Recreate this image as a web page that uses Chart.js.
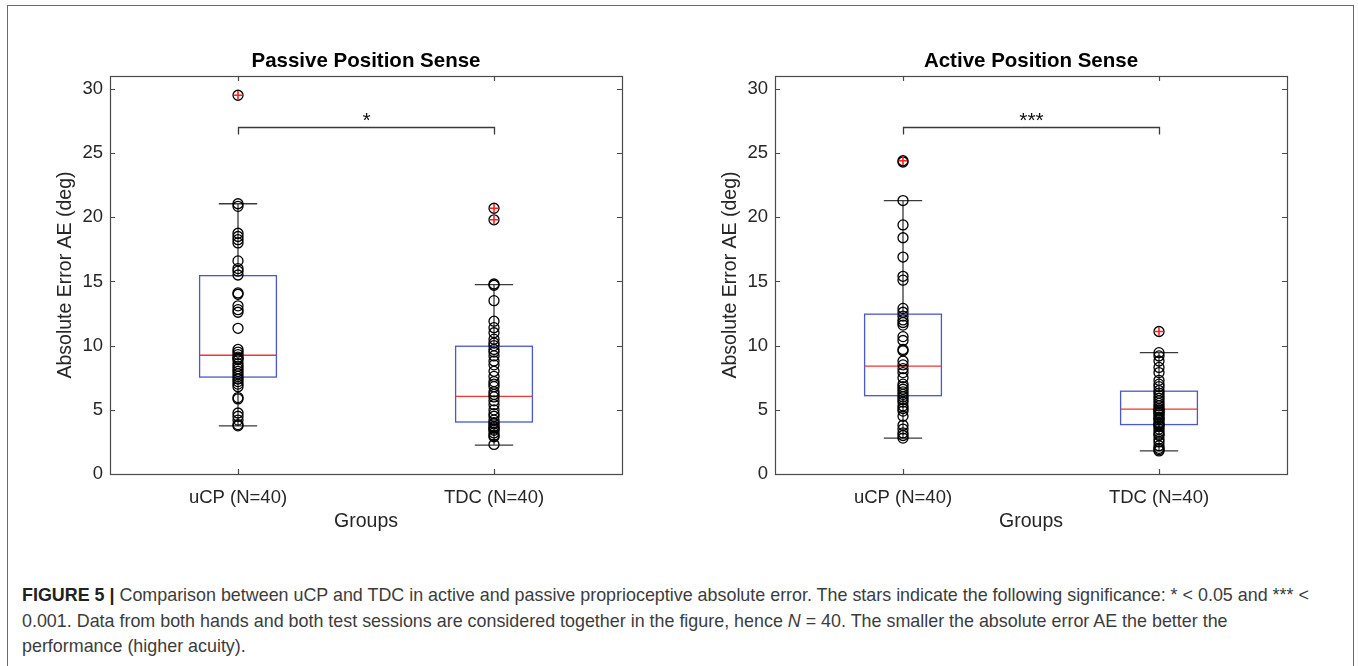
<!DOCTYPE html>
<html><head><meta charset="utf-8">
<script src="https://cdn.jsdelivr.net/npm/chart.js@4.4.0/dist/chart.umd.min.js"></script>
<style>
html,body{margin:0;padding:0;background:#fff;width:1358px;height:666px;overflow:hidden;font-family:"Liberation Sans",Arial,sans-serif;}
#frame{position:absolute;left:7px;top:5px;width:1347px;height:720px;border:1.5px solid #6a6a6a;box-sizing:border-box;}
.cw{position:absolute;top:0;width:679px;height:545px;}
#c1wrap{left:0;}
#c2wrap{left:665px;}
#caption{position:absolute;left:22px;top:583px;font-size:17.9px;line-height:25.5px;color:#3c3c3c;white-space:nowrap;}
#caption b{color:#222;}
</style>
</head>
<body>
<div id="frame"></div>
<div class="cw" id="c1wrap"><canvas id="c1"></canvas></div>
<div class="cw" id="c2wrap"><canvas id="c2"></canvas></div>
<div id="caption"><b>FIGURE 5 |</b> Comparison between uCP and TDC in active and passive proprioceptive absolute error. The stars indicate the following significance: * &lt; 0.05 and *** &lt;<br>0.001. Data from both hands and both test sessions are considered together in the figure, hence <i>N</i> = 40. The smaller the absolute error AE the better the<br>performance (higher acuity).</div>
<script>
// ---- data ----
const categories = ['uCP (N=40)', 'TDC (N=40)'];
const yTicks = [0, 5, 10, 15, 20, 25, 30];
const titles = ['Passive Position Sense', 'Active Position Sense'];

const passiveUCP = [29.5, 21.05, 20.85, 18.75, 18.5, 18.25, 18.0, 16.6, 16.0, 15.8, 15.5, 14.1, 14.0, 13.1, 12.8, 12.6, 11.35, 9.7, 9.5, 9.3, 9.1, 9.0, 8.9, 8.6, 8.4, 8.2, 8.0, 7.8, 7.6, 7.4, 7.2, 7.0, 6.8, 5.95, 5.85, 4.75, 4.5, 4.2, 3.85, 3.75];
const passiveTDC = [20.7, 19.8, 14.8, 14.7, 13.5, 11.9, 11.4, 11.0, 10.5, 10.2, 10.0, 9.7, 9.5, 9.2, 8.8, 8.5, 8.0, 7.6, 7.2, 7.0, 6.8, 6.4, 6.2, 6.0, 5.7, 5.4, 5.0, 4.7, 4.5, 4.2, 4.0, 3.9, 3.7, 3.6, 3.5, 3.4, 3.2, 3.0, 2.9, 2.3];
const activeUCP = [24.4, 24.3, 21.3, 19.4, 18.4, 16.9, 15.4, 15.1, 12.9, 12.6, 12.3, 12.0, 11.8, 11.6, 10.7, 10.4, 9.7, 9.6, 8.8, 8.5, 8.2, 7.9, 7.5, 7.0, 6.8, 6.6, 6.4, 6.2, 6.0, 5.8, 5.6, 5.3, 5.1, 4.9, 4.5, 3.8, 3.5, 3.2, 3.0, 2.8];
const activeTDC = [11.1, 9.45, 9.2, 8.8, 8.3, 7.9, 7.3, 7.0, 6.8, 6.5, 6.3, 6.1, 5.9, 5.7, 5.5, 5.3, 5.1, 5.0, 4.9, 4.8, 4.7, 4.6, 4.4, 4.3, 4.2, 4.0, 3.9, 3.8, 3.7, 3.5, 3.3, 3.1, 3.0, 2.7, 2.5, 2.2, 2.0, 1.9, 1.8];

// box stats: [lower whisker, Q1, median, Q3, upper whisker]
const passiveBoxUCP = [3.75, 7.55, 9.25, 15.45, 21.05];
const passiveBoxTDC = [2.25, 4.05, 6.05, 9.95, 14.75];
const activeBoxUCP = [2.8, 6.1, 8.4, 12.45, 21.3];
const activeBoxTDC = [1.8, 3.85, 5.05, 6.45, 9.45];

const passiveOutUCP = [29.5];
const passiveOutTDC = [20.7, 19.8];
const activeOutUCP = [24.4];
const activeOutTDC = [11.1];

const bracketLevel = 27.0;
const sigLabels = ['*', '***'];

// ---- drawing ----
const FONT = '"Liberation Sans", Arial, sans-serif';
const TXT = '#262626';

const boxPlugin = {
  id: 'boxPlugin',
  beforeDatasetsDraw(chart) {
    const {ctx, scales: {x, y}} = chart;
    const boxes = chart.options.plugins.boxPlugin.boxes;
    ctx.save();
    boxes.forEach((b, i) => {
      const cx = x.getPixelForValue(i + 1);
      const xl = x.getPixelForValue(i + 1 - 0.15), xr = x.getPixelForValue(i + 1 + 0.15);
      const cl = x.getPixelForValue(i + 1 - 0.075), cr = x.getPixelForValue(i + 1 + 0.075);
      const [lo, q1, med, q3, hi] = b.map(v => y.getPixelForValue(v));
      ctx.strokeStyle = '#3a3a3a'; ctx.lineWidth = 1.3;
      ctx.beginPath();
      ctx.moveTo(cx, q3); ctx.lineTo(cx, hi);
      ctx.moveTo(cx, q1); ctx.lineTo(cx, lo);
      ctx.moveTo(cl, hi); ctx.lineTo(cr, hi);
      ctx.moveTo(cl, lo); ctx.lineTo(cr, lo);
      ctx.stroke();
      ctx.strokeStyle = '#4a58c8'; ctx.lineWidth = 1.3;
      ctx.strokeRect(xl, q3, xr - xl, q1 - q3);
      ctx.strokeStyle = '#f03535';
      ctx.beginPath(); ctx.moveTo(xl, med); ctx.lineTo(xr, med); ctx.stroke();
    });
    ctx.restore();
  },
  afterDraw(chart) {
    const {ctx, chartArea: a, scales: {x, y}} = chart;
    const o = chart.options.plugins.boxPlugin;
    ctx.save();
    ctx.strokeStyle = '#4a4a4a'; ctx.lineWidth = 1.2;
    ctx.strokeRect(Math.round(a.left) + 0.5, Math.round(a.top) + 0.5, Math.round(a.right - a.left), Math.round(a.bottom - a.top));
    ctx.beginPath();
    yTicks.forEach(v => {
      const py = Math.round(y.getPixelForValue(v)) + 0.5;
      ctx.moveTo(a.left, py); ctx.lineTo(a.left + 5, py);
      ctx.moveTo(a.right, py); ctx.lineTo(a.right - 5, py);
    });
    [1, 2].forEach(v => {
      const px = Math.round(x.getPixelForValue(v)) + 0.5;
      ctx.moveTo(px, a.bottom); ctx.lineTo(px, a.bottom - 5);
      ctx.moveTo(px, a.top); ctx.lineTo(px, a.top + 5);
    });
    ctx.stroke();
    const by = Math.round(y.getPixelForValue(bracketLevel)) + 0.5;
    const bt = y.getPixelForValue(bracketLevel - 0.55);
    const x1 = Math.round(x.getPixelForValue(1)) + 0.5, x2 = Math.round(x.getPixelForValue(2)) + 0.5;
    ctx.strokeStyle = '#3a3a3a'; ctx.lineWidth = 1.3;
    ctx.beginPath();
    ctx.moveTo(x1, bt); ctx.lineTo(x1, by); ctx.lineTo(x2, by); ctx.lineTo(x2, bt);
    ctx.stroke();
    ctx.fillStyle = '#111';
    ctx.font = '21px ' + FONT;
    ctx.textAlign = 'center'; ctx.textBaseline = 'middle';
    ctx.fillText(o.sig, (x1 + x2) / 2, y.getPixelForValue(bracketLevel + 0.5));
    ctx.restore();
  }
};

function makeChart(id, title, d1, d2, box1, box2, out1, out2, sig) {
  const pts = d1.map(v => ({x: 1, y: v})).concat(d2.map(v => ({x: 2, y: v})));
  const outs = out1.map(v => ({x: 1, y: v})).concat(out2.map(v => ({x: 2, y: v})));
  return new Chart(document.getElementById(id), {
    type: 'scatter',
    data: {
      datasets: [
        {data: outs, pointStyle: 'cross', radius: 4.5, borderColor: '#ff2020', borderWidth: 1.6, backgroundColor: '#ff2020', order: 0},
        {data: pts, pointStyle: 'circle', radius: 5, borderColor: '#000', borderWidth: 1.3, backgroundColor: 'rgba(0,0,0,0)', order: 1}
      ]
    },
    options: {
      responsive: true, maintainAspectRatio: false, animation: false,
      layout: {padding: {left: 0, right: 57, top: 0, bottom: 0}},
      plugins: {
        legend: {display: false}, tooltip: {enabled: false},
        title: {display: true, text: title, fullSize: false, color: '#000',
                font: {size: 20.5, weight: 'bold', family: FONT}, padding: {top: 49.5, bottom: 1.9}},
        boxPlugin: {boxes: [box1, box2], sig: sig}
      },
      scales: {
        x: {
          type: 'linear', min: 0.5, max: 2.5,
          grid: {display: false, drawTicks: false}, border: {display: false},
          afterBuildTicks: s => { s.ticks = [{value: 1}, {value: 2}]; },
          afterFit: s => { s.height = 71; },
          ticks: {padding: 13, color: TXT, font: {size: 18.5, family: FONT}, maxRotation: 0,
                  callback: v => categories[v - 1] ?? ''},
          title: {display: true, text: 'Groups', color: TXT, font: {size: 19.5, family: FONT}, padding: {top: 0, bottom: 11.3}}
        },
        y: {
          type: 'linear', min: 0, max: 31,
          grid: {display: false, drawTicks: false}, border: {display: false},
          afterBuildTicks: s => { s.ticks = yTicks.map(v => ({value: v})); },
          afterFit: s => { s.width = 110; },
          ticks: {padding: 7, color: TXT, font: {size: 18.5, family: FONT}},
          title: {display: true, text: 'Absolute Error AE (deg)', color: TXT, font: {size: 19.5, family: FONT}, padding: {top: 54.3, bottom: 0}}
        }
      }
    },
    plugins: [boxPlugin]
  });
}

makeChart('c1', titles[0], passiveUCP, passiveTDC, passiveBoxUCP, passiveBoxTDC, passiveOutUCP, passiveOutTDC, sigLabels[0]);
makeChart('c2', titles[1], activeUCP, activeTDC, activeBoxUCP, activeBoxTDC, activeOutUCP, activeOutTDC, sigLabels[1]);
</script>
</body></html>
